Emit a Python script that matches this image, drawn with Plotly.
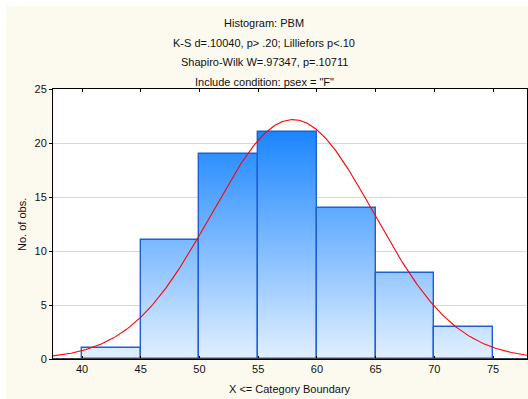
import numpy as np
import plotly.graph_objects as go

# Histogram of PBM (psex = "F")
bin_lower = [40, 45, 50, 55, 60, 65, 70]
bin_upper = [45, 50, 55, 60, 65, 70, 75]
counts = [1, 11, 19, 21, 14, 8, 3]

# Fitted normal curve parameters
fit_mean = 57.95
fit_sd = 6.93

title_lines = [
    "Histogram: PBM",
    "K-S d=.10040, p> .20; Lilliefors p<.10",
    "Shapiro-Wilk W=.97347, p=.10711",
    'Include condition: psex = "F"',
]
x_ticks = [40, 45, 50, 55, 60, 65, 70, 75]
y_ticks = [0, 5, 10, 15, 20, 25]

W, H = 528, 399
ML, MR, MT, MB = 53, 1, 89, 40
X_RANGE = [37.53, 77.89]
Y_RANGE = [0, 25]
FONT = "Liberation Sans, Arial, sans-serif"

top_col = np.array([28, 134, 255])
bot_col = np.array([226, 240, 255])
ymax = max(counts)


def grad(y):
    t = min(max(y / ymax, 0), 1)
    c = bot_col + (top_col - bot_col) * t
    return "rgb(%d,%d,%d)" % tuple(c.round())


# Gradient fill: each bar split into thin horizontal slices
step = 0.1
sx, sbase, sh, scol, sw = [], [], [], [], []
for lo, hi, c in zip(bin_lower, bin_upper, counts):
    b = 0.0
    while b < c - 1e-9:
        h = min(step, c - b)
        sx.append((lo + hi) / 2)
        sbase.append(b)
        sh.append(h + 0.02 if b + h < c - 1e-9 else h)
        scol.append(grad(b + h / 2))
        sw.append(hi - lo)
        b += step

fig = go.Figure()
fig.add_trace(go.Bar(
    x=sx, y=sh, base=sbase, width=sw,
    marker=dict(color=scol, line=dict(width=0)),
    hoverinfo="skip", showlegend=False,
))
# Bar outlines
fig.add_trace(go.Bar(
    x=[(a + b) / 2 for a, b in zip(bin_lower, bin_upper)],
    y=counts,
    width=[b - a for a, b in zip(bin_lower, bin_upper)],
    marker=dict(color="rgba(0,0,0,0)", line=dict(color="#1F5FD6", width=1.4)),
    showlegend=False,
))

# Normal curve
xc = np.linspace(X_RANGE[0], X_RANGE[1], 400)
n = sum(counts)
bw = bin_upper[0] - bin_lower[0]
yc = n * bw / (fit_sd * np.sqrt(2 * np.pi)) * np.exp(-0.5 * ((xc - fit_mean) / fit_sd) ** 2)
fig.add_trace(go.Scatter(x=xc, y=yc, mode="lines",
                         line=dict(color="#FF0000", width=1.1),
                         showlegend=False, hoverinfo="skip"))

pw = W - ML - MR
ph = H - MT - MB


def px_x(px):
    return (px - ML) / pw


def px_y(py):
    return (H - MB - py) / ph


annotations = []
for i, line in enumerate(title_lines):
    annotations.append(dict(
        text=line, x=px_x(264), y=px_y(23 + i * 19.7), xref="paper", yref="paper",
        xanchor="center", yanchor="middle", showarrow=False,
        font=dict(family=FONT, size=11, color="#111111"),
    ))
annotations.append(dict(
    text="No. of obs.", x=px_x(22), y=0.5, xref="paper", yref="paper",
    xanchor="center", yanchor="middle", showarrow=False, textangle=-90,
    font=dict(family=FONT, size=11, color="#111111"),
))
annotations.append(dict(
    text="X <= Category Boundary", x=0.5, y=px_y(389), xref="paper", yref="paper",
    xanchor="center", yanchor="middle", showarrow=False,
    font=dict(family=FONT, size=11, color="#111111"),
))

shapes = [
    # thin white frame strips on top and left
    dict(type="rect", xref="paper", yref="paper", x0=px_x(0), x1=px_x(W),
         y0=px_y(0), y1=px_y(6), fillcolor="white", line=dict(width=0), layer="below"),
    dict(type="rect", xref="paper", yref="paper", x0=px_x(0), x1=px_x(6),
         y0=px_y(0), y1=px_y(H), fillcolor="white", line=dict(width=0), layer="below"),
    # heavy baseline
    dict(type="line", xref="paper", yref="y", x0=0, x1=1, y0=0, y1=0,
         line=dict(color="#3A4152", width=2)),
]

fig.update_layout(
    width=W, height=H, autosize=False,
    margin=dict(l=ML, r=MR, t=MT, b=MB, pad=0, autoexpand=False),
    paper_bgcolor="#FCF9EE",
    plot_bgcolor="white",
    barmode="overlay",
    bargap=0,
    showlegend=False,
    annotations=annotations,
    shapes=shapes,
    font=dict(family=FONT, size=11, color="#111111"),
)
fig.update_xaxes(
    range=X_RANGE, tickvals=x_ticks, ticks="inside", ticklen=3, tickcolor="black",
    showline=True, linecolor="black", linewidth=1, mirror="ticks",
    showgrid=False, zeroline=False, automargin=False,
    tickfont=dict(family=FONT, size=11, color="#111111"),
)
fig.update_yaxes(
    range=Y_RANGE, tickvals=y_ticks, ticks="outside", ticklen=3, tickcolor="black",
    showline=True, linecolor="black", linewidth=1, mirror="ticks",
    showgrid=True, gridcolor="#D8D8D8", gridwidth=1, zeroline=False, automargin=False,
    tickfont=dict(family=FONT, size=11, color="#111111"),
)

fig.write_html("out.html", config={"responsive": False})
